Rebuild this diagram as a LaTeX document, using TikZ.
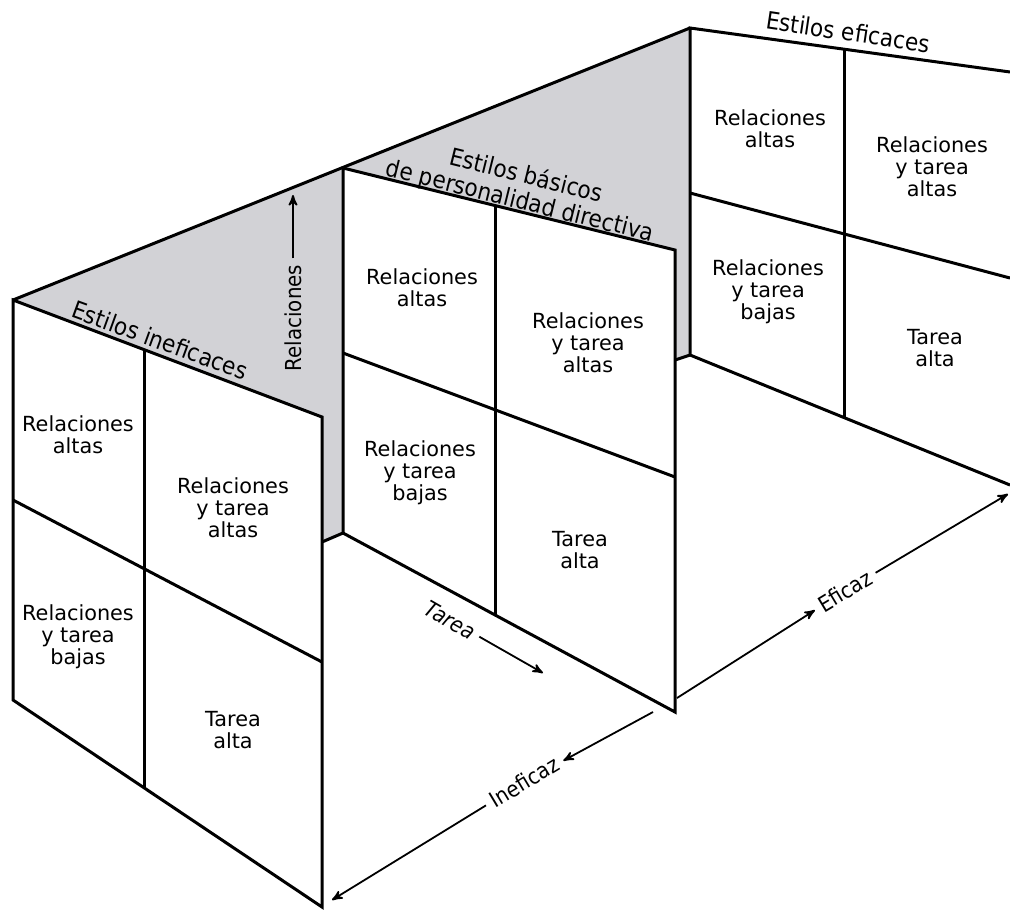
\documentclass[tikz,border=0pt]{standalone}
\usepackage{fontspec}
\setmainfont{DejaVu Sans}
\newfontfamily\headfont[FakeStretch=0.9]{DejaVu Sans}
\usetikzlibrary{arrows,calc}
\definecolor{wallgray}{RGB}{210,210,214}

\begin{document}
\begin{tikzpicture}[x=0.5pt, y=-0.5pt, >=stealth',
    panel/.style={line width=1.5pt, line join=miter},
    axis/.style={->, line width=0.9pt},
    cell/.style={align=center, inner sep=0pt, font=\fontsize{10.4}{11}\selectfont},
    head/.style={align=center, inner sep=0pt, font=\headfont\fontsize{12}{13}\selectfont},
    axislabel/.style={inner sep=3pt, font=\headfont\fontsize{11}{12}\selectfont}]
    \useasboundingbox (0,0) rectangle (1010,910);

    % Corners {front F, middle M, back B}
    \coordinate (Ftl) at (13,300);   \coordinate (Ftr) at (322,417);
    \coordinate (Fml) at (13,500);   \coordinate (Fmr) at (322,662);
    \coordinate (Fbl) at (13,700);   \coordinate (Fbr) at (322,907);
    \coordinate (Mtl) at (343,168);  \coordinate (Mtr) at (675,250);
    \coordinate (Mml) at (343,353);  \coordinate (Mmr) at (675,477);
    \coordinate (Mbl) at (343,533);  \coordinate (Mbr) at (675,712);
    \coordinate (Btl) at (690,28);   \coordinate (Btr) at (1010,72);
    \coordinate (Bml) at (690,193);  \coordinate (Bmr) at (1010,278);
    \coordinate (Bbl) at (690,355);  \coordinate (Bbr) at (1010,485);
    \coordinate (Ff)  at (322,542);  \coordinate (Mf)  at (675,360);

    % Side wall
    \fill [wallgray] (Ftl) -- (Mtl) -- (Mbl) -- (Ff) -- (Ftr) -- cycle;
    \fill [wallgray] (Mtl) -- (Btl) -- (Bbl) -- (Mf) -- (Mtr) -- cycle;
    \draw [panel] (Ftl) -- (Btl);
    \draw [panel] (Ff) -- (Mbl);
    \draw [panel] (Mf) -- (Bbl);

    % Panels
    \draw [panel] (Ftl) -- (Ftr) -- (Fbr) -- (Fbl) -- cycle;
    \draw [panel] (Fml) -- (Fmr);
    \draw [panel] ($(Ftl)!0.427!(Ftr)$) -- ($(Fbl)!0.427!(Fbr)$);
    \draw [panel] (Mtl) -- (Mtr) -- (Mbr) -- (Mbl) -- cycle;
    \draw [panel] (Mml) -- (Mmr);
    \draw [panel] ($(Mtl)!0.458!(Mtr)$) -- ($(Mbl)!0.458!(Mbr)$);
    \draw [panel] (Btr) -- (Btl) -- (Bbl) -- (Bbr);
    \draw [panel] (Bml) -- (Bmr);
    \draw [panel] ($(Btl)!0.484!(Btr)$) -- ($(Bbl)!0.484!(Bbr)$);

    % Headings
    \node [head, rotate=-20]  (ineficaces) at (160,340) {Estilos ineficaces};
    \node [head, rotate=-14]  (basicos)    at (523,189) {Estilos básicos\\de personalidad directiva};
    \node [head, rotate=-8.5] (eficaces)   at (848,32)  {Estilos eficaces};

    % Cells
    \node [cell] (f1) at (78,435)  {Relaciones\\altas};
    \node [cell] (f2) at (233,508) {Relaciones\\y tarea\\altas};
    \node [cell] (f3) at (78,637)  {Relaciones\\y tarea\\bajas};
    \node [cell] (f4) at (233,730) {Tarea\\alta};
    \node [cell] (m1) at (422,288) {Relaciones\\altas};
    \node [cell] (m2) at (588,343) {Relaciones\\y tarea\\altas};
    \node [cell] (m3) at (420,473) {Relaciones\\y tarea\\bajas};
    \node [cell] (m4) at (580,550) {Tarea\\alta};
    \node [cell] (b1) at (770,129) {Relaciones\\altas};
    \node [cell] (b2) at (932,167) {Relaciones\\y tarea\\altas};
    \node [cell] (b3) at (768,292) {Relaciones\\y tarea\\bajas};
    \node [cell] (b4) at (935,348) {Tarea\\alta};

    % Axes
    \node [axislabel, rotate=90]  (relaciones) at (293,318) {Relaciones};
    \node [axislabel, rotate=-30] (tarea)      at (450,620) {\itshape Tarea};
    \node [axislabel, rotate=31]  (eficaz)     at (845,591) {Eficaz};
    \node [axislabel, rotate=31]  (ineficaz)   at (524,782) {Ineficaz};
    \coordinate (relTip)  at (293,195);
    \coordinate (tareaTip) at (543,673);
    \coordinate (efStart) at (677,698);  \coordinate (efTip) at (1008,494);
    \coordinate (inStart) at (653,712);  \coordinate (inTip) at (332,900);

    \draw [axis] (relaciones) -- (relTip);
    \draw [axis] (tarea)      -- (tareaTip);
    \draw [axis] (efStart)    -- (eficaz);
    \draw [axis] (eficaz)     -- (efTip);
    \draw [axis] (inStart)    -- (ineficaz);
    \draw [axis] (ineficaz)   -- (inTip);
\end{tikzpicture}
\end{document}
